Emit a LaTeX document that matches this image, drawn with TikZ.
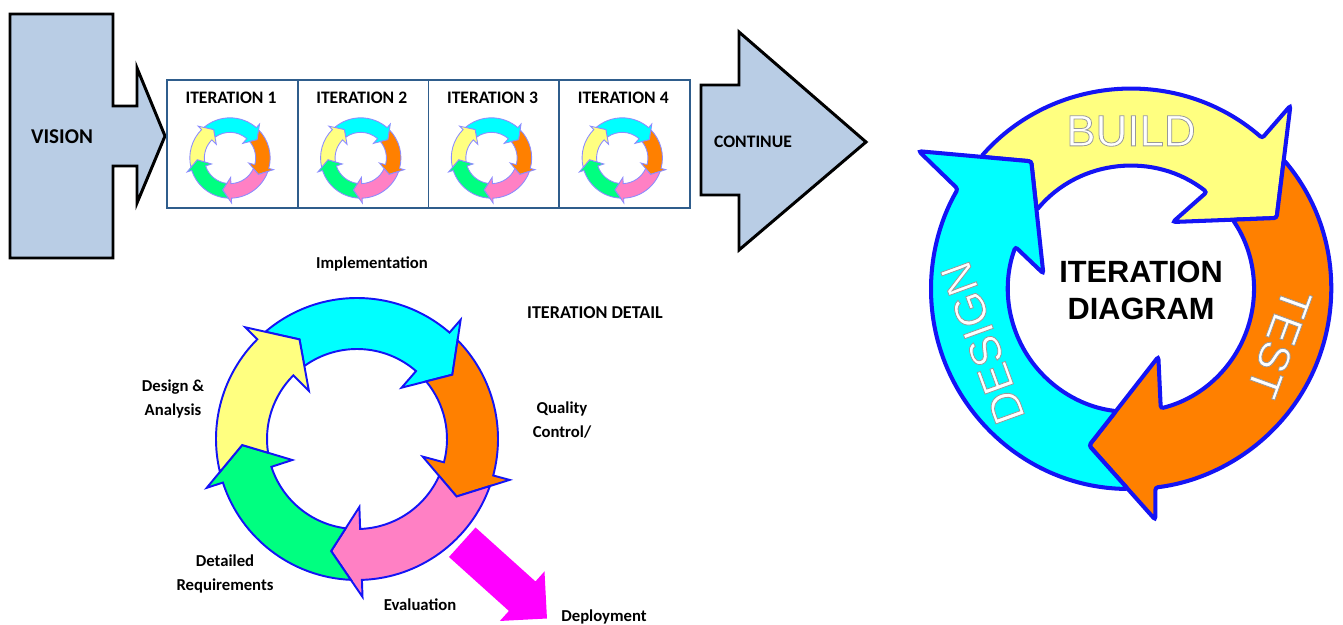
\documentclass[tikz,border=0pt]{standalone}
\usepackage{fontspec}
\setmainfont{Carlito}
\newfontfamily\arialfont{Liberation Sans}
\usepackage{tikz}
\usetikzlibrary{shapes.arrows}

\definecolor{arrowblue}{HTML}{B9CDE5}
\definecolor{boxblue}{HTML}{2F5D8C}
\definecolor{ringblue}{HTML}{1414F5}
\definecolor{smallblue}{HTML}{8C8CFF}
\definecolor{cycCyan}{HTML}{00FFFF}
\definecolor{cycOrange}{HTML}{FF8000}
\definecolor{cycPink}{HTML}{FF80C4}
\definecolor{cycGreen}{HTML}{00FF80}
\definecolor{cycYellow}{HTML}{FFFF80}
\definecolor{deploy}{HTML}{FF00FF}

% white letters with a grey outline
\newcommand\hollow[1]{\special{pdf:literal direct 2 Tr 0.45 w 0.6 G}#1\special{pdf:literal direct 0 Tr}}

\tikzset{
  blockarrow/.style={fill=arrowblue, draw=black, line width=1.7pt},
  iterbox/.style={draw=boxblue, line width=1pt, minimum width=2.615cm, minimum height=2.56cm, inner sep=0pt},
  iterlabel/.style={font=\bfseries\fontsize{10}{12}\selectfont},
  steplabel/.style={font=\bfseries\fontsize{9.5}{13.6}\selectfont, align=center},
  ringedge/.style={draw=ringblue, line width=1.1pt},
  bigring/.style={draw=ringblue, line width=2.3pt, rounded corners=1.5pt},
  ringword/.style={text=white, font=\arialfont\fontsize{25}{25}\selectfont},
  % tail notch of each arrow fits the head before it
  cyclering/.pic={
    \foreach \s/\e/\col in {135/49/cycCyan, 49/-15/cycOrange, -15/-88/cycPink,
        -88/-162/cycGreen, -162/-225/cycYellow}
      \filldraw[ringedge, fill=\col] ({\s-4.5}:141) arc[start angle=\s-4.5, end angle=\e, radius=141]
        -- (\e:158) -- ({\e-15}:115) -- (\e:68) -- (\e:90)
        arc[start angle=\e, end angle=\s-9.2, radius=90] -- ({\s-15}:115) -- cycle;
  }
}

\begin{document}
\begin{tikzpicture}[x=0.02cm, y=0.02cm]
\useasboundingbox (0,0) rectangle (1343,-625);

% Vision
\draw[blockarrow] (10,-14) -- (113,-14) -- (113,-106) -- (137,-106) -- (137,-68) -- (165,-136)
  -- (137,-203) -- (137,-166) -- (113,-166) -- (113,-258) -- (10,-258) -- cycle;
\node[font=\bfseries\fontsize{12}{14}\selectfont] (vision) at (62,-137) {VISION};

% Iterations
\foreach \i in {1,...,4}{
  \node[iterbox] (it\i) at ({232.4+130.75*(\i-1)},-144) {};
  \node[iterlabel] (itlabel\i) at ({231+130.75*(\i-1)},-98) {ITERATION \i};
  \pic[scale=0.285, ringedge/.style={draw=smallblue, line width=0.5pt}] at ({230+130.75*(\i-1)},-158) {cyclering};
}

% Continue
\draw[blockarrow] (701,-85) -- (739,-85) -- (739,-32) -- (866,-142) -- (739,-250) -- (739,-195)
  -- (701,-195) -- cycle;
\node[font=\bfseries\fontsize{10}{12}\selectfont] (continue) at (753,-142) {CONTINUE};

% Iteration detail
\node[single arrow, fill=deploy, rotate=-42, anchor=tail, inner xsep=0pt, inner ysep=0.39cm,
  minimum height=2.28cm, single arrow head extend=0.27cm] (deployarrow) at (462,-542) {};
\pic at (357,-439) {cyclering};

\node[steplabel] (impl) at (372,-264) {Implementation};
\node[steplabel, font=\bfseries\fontsize{10.3}{12}\selectfont] (detail) at (595,-313) {ITERATION DETAIL};
\node[steplabel] (quality) at (562,-420) {Quality\\Control/};
\node[steplabel] (design) at (173,-399) {Design \&\\Analysis};
\node[steplabel] (reqs) at (225,-574) {Detailed\\Requirements};
\node[steplabel] (evaluation) at (420,-605) {Evaluation};
\node[steplabel] (deployment) at (604,-617) {Deployment};

% Iteration diagram
\begin{scope}[shift={(1131,-289)}]
  \foreach \to/\ti/\pt/\o/\i/\t/\bo/\bor/\bi/\bir/\col in {
      138.6/140.1/128/49/52/26/49/243/58/79/cycYellow,
      40.2/34.3/26/-83/-76/-105/-84/232/-68/73/cycOrange,
      -90.9/-97/-105/-210/-200/-232/-213/253/-190/89/cycCyan}
    \filldraw[bigring, fill=\col] (\to:200) arc[start angle=\to, end angle=\o, radius=200]
      -- (\bo:\bor) -- (\t:162) -- (\bi:\bir) -- (\i:123)
      arc[start angle=\i, end angle=\ti, radius=123] -- (\pt:162) -- cycle;

  \node[font=\arialfont\bfseries\fontsize{17.5}{21}\selectfont, align=center] (title) at (10,-1) {ITERATION\\DIAGRAM};
  \node[ringword] (build) at (90:158) {\hollow{BUILD}};
  \node[ringword, rotate=-110] (test) at (-20:158) {\hollow{TEST}};
  \node[ringword, rotate=110] (designword) at (200:158) {\hollow{DESIGN}};
\end{scope}
\end{tikzpicture}
\end{document}
